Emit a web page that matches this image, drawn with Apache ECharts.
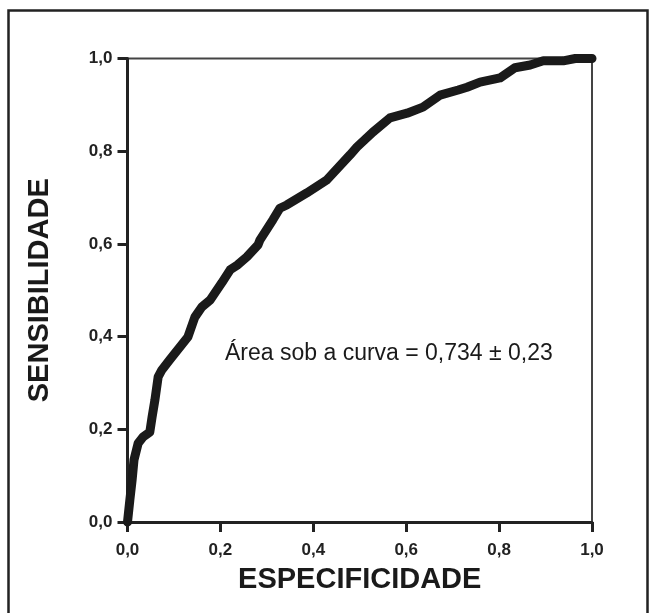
<!DOCTYPE html>
<html>
<head>
<meta charset="utf-8">
<script src="https://cdn.jsdelivr.net/npm/echarts@6/dist/echarts.min.js"></script>
<style>
html,body{margin:0;padding:0;background:#fff;}
#chart{width:651px;height:613px;}
</style>
</head>
<body>
<div id="chart"></div>
<script>
// 1 - especificidade (x) values of the ROC curve
const xVals = [0.000, 0.005, 0.010, 0.014, 0.023, 0.033, 0.048, 0.053, 0.059, 0.066, 0.074, 0.091, 0.130, 0.145, 0.160, 0.178, 0.203, 0.221, 0.236, 0.257, 0.281, 0.285, 0.313, 0.328, 0.343, 0.386, 0.429, 0.479, 0.494, 0.528, 0.565, 0.602, 0.636, 0.673, 0.712, 0.731, 0.759, 0.802, 0.834, 0.867, 0.895, 0.938, 0.964, 1.000];
// sensibilidade (y) values
const yVals = [0.000, 0.047, 0.091, 0.134, 0.170, 0.183, 0.194, 0.227, 0.263, 0.313, 0.328, 0.350, 0.399, 0.442, 0.464, 0.479, 0.516, 0.544, 0.554, 0.572, 0.598, 0.608, 0.652, 0.677, 0.684, 0.710, 0.738, 0.792, 0.809, 0.841, 0.872, 0.882, 0.895, 0.921, 0.932, 0.938, 0.949, 0.958, 0.980, 0.986, 0.995, 0.995, 1.000, 1.000];
const tickLabels = ['0,0', '0,2', '0,4', '0,6', '0,8', '1,0'];
const xTitle = 'ESPECIFICIDADE';
const yTitle = 'SENSIBILIDADE';
const annotation = 'Área sob a curva = 0,734 ± 0,23';

const data = xVals.map((x, i) => [x, yVals[i]]);
const fmt = v => tickLabels[Math.round(v / 0.2)];

const chart = echarts.init(document.getElementById('chart'), null, {renderer: 'canvas'});
const labelStyle = {fontFamily: 'Liberation Sans, Arial, sans-serif', fontWeight: 'bold', fontSize: 17, color: '#222'};
chart.setOption({
  backgroundColor: '#fff',
  animation: false,
  grid: {left: 127.5, right: 59, top: 58.5, bottom: 91, show: true, borderColor: '#444', borderWidth: 2, backgroundColor: '#fff'},
  xAxis: {
    type: 'value', min: 0, max: 1, interval: 0.2,
    name: xTitle, nameLocation: 'middle', nameGap: 43,
    nameTextStyle: {fontFamily: 'Liberation Sans, Arial, sans-serif', fontWeight: 'bold', fontSize: 29, color: '#1a1a1a'},
    axisLine: {show: true, onZero: false, lineStyle: {color: '#222', width: 3}},
    axisTick: {show: true, inside: false, length: 10, lineStyle: {color: '#222', width: 3}},
    axisLabel: Object.assign({margin: 20, formatter: fmt}, labelStyle),
    splitLine: {show: false}
  },
  yAxis: {
    type: 'value', min: 0, max: 1, interval: 0.2,
    name: yTitle, nameLocation: 'middle', nameGap: 73, nameRotate: 90,
    nameTextStyle: {fontFamily: 'Liberation Sans, Arial, sans-serif', fontWeight: 'bold', fontSize: 29, color: '#1a1a1a'},
    axisLine: {show: true, onZero: false, lineStyle: {color: '#222', width: 3}},
    axisTick: {show: true, inside: false, length: 10, lineStyle: {color: '#222', width: 3}},
    axisLabel: Object.assign({margin: 15, formatter: fmt}, labelStyle),
    splitLine: {show: false}
  },
  series: [{
    type: 'line',
    data: data,
    showSymbol: false,
    symbol: 'none',
    clip: false,
    smooth: false,
    lineStyle: {color: '#1a1a1a', width: 9, cap: 'round', join: 'round'},
    z: 5
  }],
  graphic: [
    {type: 'rect', left: 6, top: 8, shape: {width: 639, height: 640}, style: {fill: 'none', stroke: '#222', lineWidth: 2.5}, z: 100, silent: true},
    {type: 'text', left: 225, top: 342, style: {text: annotation, fontFamily: 'Liberation Sans, Arial, sans-serif', fontSize: 23, fill: '#1a1a1a'}, z: 100}
  ]
});
</script>
</body>
</html>
